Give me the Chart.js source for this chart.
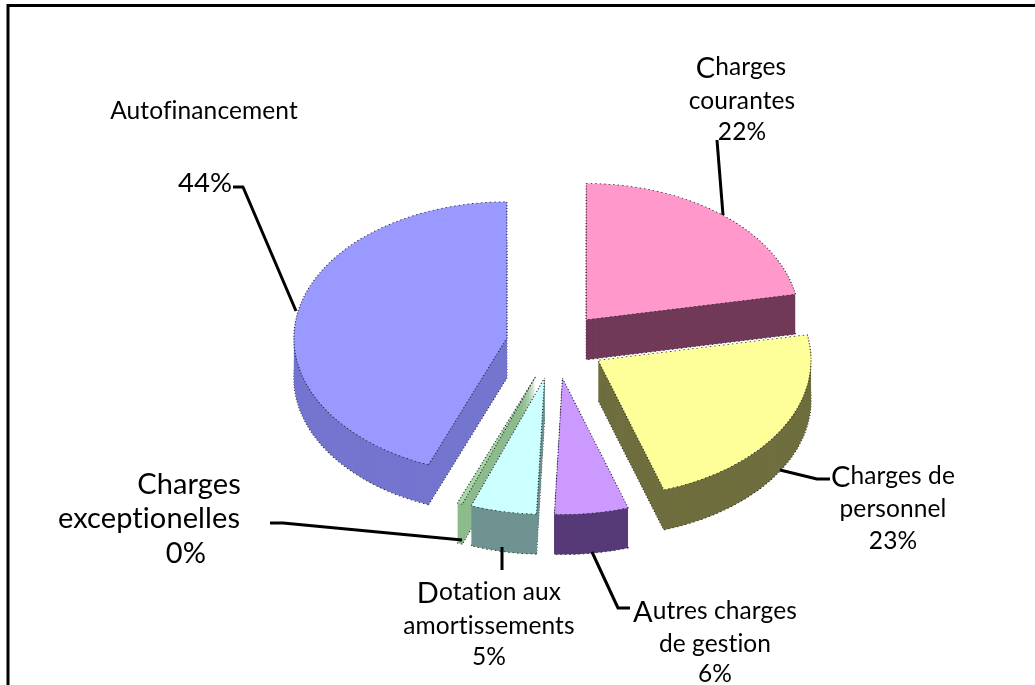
<!DOCTYPE html>
<html>
<head>
<meta charset="utf-8">
<style>
  html, body { margin: 0; padding: 0; background: #fff; }
  canvas { display: block; }
</style>
<script src="https://cdn.jsdelivr.net/npm/chart.js@4/dist/chart.umd.min.js"></script>
</head>
<body>
<canvas id="pie" width="1035" height="685"></canvas>
<script>
const categories = ['Charges courantes', 'Charges de personnel', 'Autres charges de gestion',
  'Dotation aux amortissements', 'Charges exceptionelles', 'Autofinancement'];
const shares = [22, 23, 5.6, 5, 0.4, 44];
const faceColors = ['#ff99cc', '#ffff99', '#cc99ff', '#ccffff', '#a8d8a8', '#9999ff'];
const sideColors = ['#713a58', '#6e6e3e', '#573a78', '#6f9391', '#8dbb8d', '#7475cf'];
const explode = [49, 50, 54, 54, 54, 49];
const drawOrder = [0, 5, 1, 4, 3, 2];

const TILT = 0.64;
const DEPTH = 40;
const BODY = 'Lato, sans-serif';

// text of the callouts, one entry per line
const callouts = [
  { size: 24.5, lines: [['Autofinancement', 204, 119]] },
  { size: 27.5, lines: [['44%', 205, 192]] },
  { size: 24.5, bigFirst: true, lines: [['Charges', 741, 75], ['courantes', 742, 109], ['22%', 742, 140]] },
  { size: 24.5, bigFirst: true, lines: [['Charges de', 893, 484], ['personnel', 893, 517], ['23%', 893, 549]] },
  { size: 24.5, bigFirst: true, lines: [['Autres charges', 715, 619], ['de gestion', 715, 652], ['6%', 715, 682]] },
  { size: 24.5, bigFirst: true, lines: [['Dotation aux', 489, 600], ['amortissements', 489, 634], ['5%', 489, 665]] },
  { size: 29, lines: [['Charges', 189, 494], ['exceptionelles', 149, 528], ['0%', 186, 563]] }
];
const leaders = [
  [[233, 187], [243, 187], [296, 311]],
  [[717, 140], [723, 215]],
  [[780, 470], [817, 479], [830, 479]],
  [[592, 552], [618, 608], [630, 608]],
  [[502, 547], [502, 570]],
  [[270, 523], [283, 523], [462, 540]]
];

function drawSlice(ctx, el, i, options) {
  const mid = (el.startAngle + el.endAngle) / 2;
  const saved = el.options;
  el.options = Object.assign({}, saved, options);
  ctx.save();
  ctx.translate(Math.cos(mid) * explode[i], Math.sin(mid) * explode[i]);
  el.draw(ctx);
  ctx.restore();
  el.options = saved;
}

// tilted, extruded pie: the arcs are laid out by the doughnut controller, we only stack them
const tiltedPie = {
  id: 'tiltedPie',
  beforeDatasetsDraw(chart) {
    const ctx = chart.ctx;
    const arcs = chart.getDatasetMeta(0).data;
    drawOrder.forEach(i => {
      const el = arcs[i];
      for (let d = DEPTH; d >= 0; d--) {
        ctx.save();
        ctx.translate(el.x, el.y + d);
        ctx.scale(1, TILT);
        ctx.translate(-el.x, -el.y);
        if (d === 0) {
          drawSlice(ctx, el, i, { backgroundColor: faceColors[i], borderWidth: 1.2, borderColor: '#26262e', borderDash: [1.5, 3] });
        } else if (d === DEPTH) {
          drawSlice(ctx, el, i, { backgroundColor: sideColors[i], borderWidth: 1.2, borderColor: '#1c1c1c', borderDash: [1.5, 3] });
        } else {
          drawSlice(ctx, el, i, { backgroundColor: sideColors[i], borderWidth: 0 });
        }
        ctx.restore();
      }
    });
    return false;
  }
};

const callout = {
  id: 'callout',
  afterDraw(chart) {
    const ctx = chart.ctx;
    ctx.save();
    ctx.strokeStyle = '#000';
    ctx.lineWidth = 3;
    // frame only shows on the left and the top
    ctx.beginPath();
    ctx.moveTo(8, 685);
    ctx.lineTo(8, 5.5);
    ctx.lineTo(1035, 5.5);
    ctx.stroke();
    ctx.lineJoin = 'round';
    leaders.forEach(pts => {
      ctx.beginPath();
      pts.forEach((p, n) => n ? ctx.lineTo(p[0], p[1]) : ctx.moveTo(p[0], p[1]));
      ctx.stroke();
    });
    ctx.fillStyle = '#000';
    ctx.textBaseline = 'alphabetic';
    ctx.textAlign = 'left';
    ctx.letterSpacing = '0.1px'; // stops the fi ligature
    callouts.forEach(c => {
      c.lines.forEach(([text, x, y], n) => {
        const big = c.bigFirst && n === 0 ? text[0] : '';
        const rest = text.slice(big.length);
        ctx.font = c.size + 'px ' + BODY;
        const restW = ctx.measureText(rest).width;
        ctx.font = (c.size + 4.5) + 'px ' + BODY;
        const bigW = big ? ctx.measureText(big).width : 0;
        const left = x - (restW + bigW) / 2;
        if (big) ctx.fillText(big, left, y + 3);
        ctx.font = c.size + 'px ' + BODY;
        ctx.fillText(rest, left + bigW, y);
      });
    });
    ctx.restore();
  }
};

new Chart(document.getElementById('pie'), {
  type: 'pie',
  data: {
    labels: categories,
    datasets: [{ data: shares, backgroundColor: faceColors, borderWidth: 0, radius: 213 }]
  },
  options: {
    responsive: false,
    animation: false,
    layout: { padding: { left: 75, top: 3 } },
    plugins: { legend: { display: false }, tooltip: { enabled: false } }
  },
  plugins: [tiltedPie, callout]
});
</script>
</body>
</html>
